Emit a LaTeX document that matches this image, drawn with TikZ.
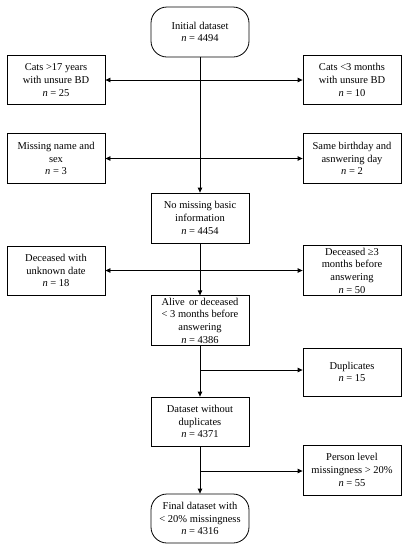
\documentclass[tikz,border=0pt]{standalone}
\usepackage{fontspec}
\setmainfont{Liberation Serif}
\usetikzlibrary{arrows.meta}
\tikzset{
  box/.style={draw, line width=0.8pt, minimum width=98pt, align=center, inner sep=2pt,
    font=\fontsize{10.5}{12.7}\selectfont},
  term/.style={box, rounded corners=16pt},
  flow/.style={line width=0.8pt, -{Triangle[length=5pt,width=4.5pt]}},
  bi/.style={line width=0.8pt, {Triangle[length=5pt,width=4.5pt]}-{Triangle[length=5pt,width=4.5pt]}}
}
\begin{document}
\begin{tikzpicture}[x=1pt,y=-1pt]
\useasboundingbox (0,0) rectangle (411,550);
\node[term, minimum height=50pt] (init) at (200,32) {Initial dataset\\\textit{n} = 4494};
\node[box, minimum height=49pt] (c17) at (56,80) {Cats >17 years\\with unsure BD\\\textit{n} = 25};
\node[box, minimum height=49pt] (c3) at (352,80) {Cats <3 months\\with unsure BD\\\textit{n} = 10};
\node[box, minimum height=50pt] (mns) at (56,158.5) {Missing name and\\sex\\\textit{n} = 3};
\node[box, minimum height=50pt] (sb) at (352,158.5) {Same birthday and\\asnwering day\\\textit{n} = 2};
\node[box, minimum height=50pt] (nm) at (200,218) {No missing basic\\information\\\textit{n} = 4454};
\node[box, minimum height=49pt] (du) at (56,270.5) {Deceased with\\unknown date\\\textit{n} = 18};
\node[box, minimum height=49pt] (d3) at (352,270.5) {Deceased ≥3\\months before\\answering\\\textit{n} = 50};
\node[box, minimum height=49pt] (al) at (200,320.5) {Alive\, or deceased\\< 3 months before\\answering\\\textit{n} = 4386};
\node[box, minimum height=48pt] (dup) at (352,372) {Duplicates\\\textit{n} = 15};
\node[box, minimum height=49pt] (dwd) at (200,421.5) {Dataset without\\duplicates\\\textit{n} = 4371};
\node[box, minimum height=50pt] (pl) at (352,470) {Person level\\missingness > 20\%\\\textit{n} = 55};
\node[term, minimum height=49pt] (fin) at (200,518.5) {Final dataset with\\< 20\% missingness\\\textit{n} = 4316};

\draw[flow] (init.south) -- (nm.north);
\draw[bi] (c17.east) -- (c3.west);
\draw[bi] (mns.east) -- (sb.west);
\draw[flow] (nm.south) -- (al.north);
\draw[bi] (du.east) -- (d3.west);
\draw[flow] (al.south) -- (dwd.north);
\coordinate (b1) at (200,370);
\draw[flow] (b1) -- (b1 -| dup.west);
\draw[flow] (dwd.south) -- (fin.north);
\coordinate (b2) at (200,471);
\draw[flow] (b2) -- (b2 -| pl.west);
\end{tikzpicture}
\end{document}
